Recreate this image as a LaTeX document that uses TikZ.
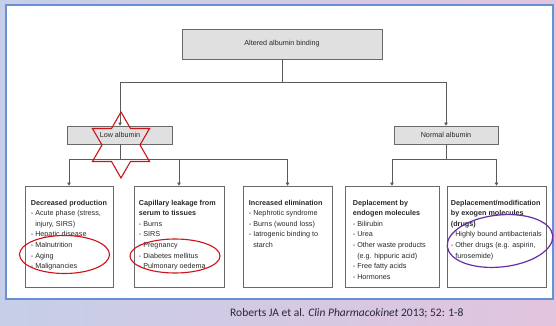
\documentclass[tikz,border=0pt]{standalone}
\usepackage{fontspec}
\setmainfont{Liberation Sans}
\newfontfamily\citefont{Carlito}
\usetikzlibrary{arrows.meta,calc}

\definecolor{linegray}{RGB}{90,90,90}
\definecolor{boxgray}{RGB}{105,105,105}
\definecolor{fillgray}{RGB}{224,224,224}
\definecolor{txtgray}{RGB}{40,40,40}
\definecolor{panelblue}{RGB}{105,145,210}
\definecolor{bgleft}{RGB}{198,206,232}
\definecolor{bgright}{RGB}{226,196,222}
\definecolor{markred}{RGB}{205,20,25}
\definecolor{markpurple}{RGB}{105,45,165}
\definecolor{citegray}{RGB}{40,40,55}

\tikzset{
  conn/.style={draw=linegray, line width=0.6pt},
  arr/.style={-{Triangle[length=3.2pt,width=3.6pt]}},
  headbox/.style={draw=boxgray, fill=fillgray, line width=0.6pt, inner sep=0pt,
    font=\fontsize{7.2}{8.6}\selectfont, text=txtgray},
  listbox/.style={draw=boxgray, fill=white, line width=0.6pt, inner sep=0pt,
    minimum height=101pt},
  listtext/.style={anchor=north west, inner sep=0pt, align=left, text=txtgray,
    font=\fontsize{7.2}{10.6}\selectfont},
  redmark/.style={draw=markred, line width=1.1pt},
  purplemark/.style={draw=markpurple, line width=1.2pt}
}
\newcommand{\ind}{\hphantom{- }}

\begin{document}
\begin{tikzpicture}[x=1pt,y=-1pt]
\useasboundingbox (0,0) rectangle (556,326);
% slide background
\shade[left color=bgleft, right color=bgright] (0,0) rectangle (556,326);
% white panel
\fill[white] (6,5) rectangle (553,299);
\draw[panelblue, line width=1.3pt] (6,5) rectangle (553,299);

% top box
\node[headbox, minimum width=200pt, minimum height=30pt] (top) at (282,44) {Altered albumin binding};
% second level
\node[headbox, minimum width=105pt, minimum height=18pt] (low) at (120,135) {Low albumin};
\node[headbox, minimum width=104pt, minimum height=18pt] (normal) at (446,135) {Normal albumin};

% bottom boxes
\node[listbox, minimum width=88pt] (b1) at (69,236.5) {};
\node[listbox, minimum width=90pt] (b2) at (179,236.5) {};
\node[listbox, minimum width=89pt] (b3) at (287.5,236.5) {};
\node[listbox, minimum width=94pt] (b4) at (392,236.5) {};
\node[listbox, minimum width=99pt] (b5) at (496.5,236.5) {};

% junctions
\coordinate (jt) at (282,82);
\coordinate (jl) at (120,159);
\coordinate (jn) at (446,159);

\draw[conn] (top.south) -- (jt);
\draw[conn,arr] (jt) -| (low.north);
\draw[conn,arr] (jt) -| (normal.north);
\draw[conn] (low.south) -- (jl);
\draw[conn,arr] (jl) -| (b1.north);
\draw[conn,arr] (jl) -| (b2.north);
\draw[conn,arr] (jl) -| (b3.north);
\draw[conn] (normal.south) -- (jn);
\draw[conn,arr] (jn) -| (b4.north);
\draw[conn,arr] (jn) -| (b5.north);

% texts
\node[listtext] (t1) at ($(b1.north west)+(6,14)$) {\textbf{Decreased production}\\
- Acute phase (stress,\\ \ind injury, SIRS)\\ - Hepatic disease\\ - Malnutrition\\ - Aging\\ - Malignancies};
\node[listtext] (t2) at ($(b2.north west)+(5,14)$) {\textbf{Capillary leakage from}\\ \textbf{serum to tissues}\\
- Burns\\ - SIRS\\ - Pregnancy\\ - Diabetes mellitus\\ - Pulmonary oedema};
\node[listtext] (t3) at ($(b3.north west)+(6,14)$) {\textbf{Increased elimination}\\
- Nephrotic syndrome\\ - Burns (wound loss)\\ - Iatrogenic binding to\\ \ind starch};
\node[listtext] (t4) at ($(b4.north west)+(8,14)$) {\textbf{Deplacement by}\\ \textbf{endogen molecules}\\
- Bilirubin\\ - Urea\\ - Other waste products\\ \ind (e.g. hippuric acid)\\ - Free fatty acids\\ - Hormones};
\node[listtext] (t5) at ($(b5.north west)+(4,14)$) {\textbf{Deplacement/modification}\\ \textbf{by exogen molecules}\\ \textbf{(drugs)}\\
- Highly bound antibacterials\\ - Other drugs (e.g. aspirin,\\ \ind furosemide)};

% annotations
\draw[redmark, shift={(121,145)}] (90:33) -- (120:19) -- (150:33) -- (180:19) -- (210:33) -- (240:19)
  -- (270:33) -- (300:19) -- (330:33) -- (0:19) -- (30:33) -- (60:19) -- cycle;
\draw[redmark] (64.5,254.5) ellipse [x radius=45, y radius=19];
\draw[redmark] (175,256) ellipse [x radius=45, y radius=17];
\draw[purplemark, rotate around={6:(500,241)}] (500,241) ellipse [x radius=53, y radius=26];

% citation
\node[anchor=west, inner sep=0pt, text=citegray, font=\citefont\fontsize{11.5}{13}\selectfont] (cite) at (230,313)
  {Roberts JA et al. \textit{Clin Pharmacokinet} 2013; 52: 1-8};
\end{tikzpicture}
\end{document}
